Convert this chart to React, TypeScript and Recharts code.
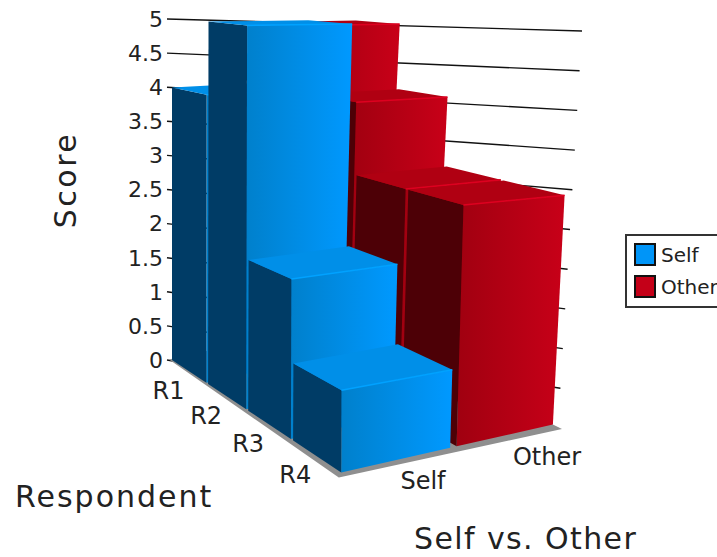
import { BarChart, Bar, XAxis, YAxis, CartesianGrid, Customized, Legend } from "recharts";

const respondents = ["R1", "R2", "R3", "R4"];
const selfScores = [4, 5, 2, 1];
const otherScores = [5, 4, 3, 3];
const scoreTicks = [0, 0.5, 1, 1.5, 2, 2.5, 3, 3.5, 4, 4.5, 5];
const seriesNames = ["Self", "Other"];

const chartData = respondents.map((name, i) => ({
    name,
    Self: selfScores[i],
    Other: otherScores[i],
}));

const FONT = "'DejaVu Sans', sans-serif";
const TEXT = "#222";
const PLOT_LEFT = 172;
const PLOT_TOP = 19;
const PLOT_BOTTOM = 360;
const PLOT_WIDTH = 400;

const palette: Record<string, any> = {
    Self: { side: "#003c66", dark: "#0080cc", light: "#0099ff", top: "#008fe8", edge: "#00a2ff" },
    Other: { side: "#4d0006", dark: "#a00010", light: "#c80018", top: "#b00012", edge: "#de0020" },
};

// perspective box: u runs Self to Other, v runs R1 to R4, h is 0 on the floor and 1 at the axis maximum
const NEAR_WEIGHT = -0.2;

function project(u: number, v: number, h: number) {
    const w = 1 + NEAR_WEIGHT * v;
    const floorX = 172 + 169.6 * u + 101.6 * v;
    const floorY = 360 - 38.4 * u + 18.4 * v;
    const ceilX = 172 + 184 * u + 103.2 * v;
    const ceilY = 18 - 2.4 * u + 10 * v;
    return {
        x: (floorX + (ceilX - floorX) * h) / w,
        y: (floorY + (ceilY - floorY) * h) / w,
    };
}

function toPoints(corners: number[][]) {
    return corners
        .map(([u, v, h]) => {
            const p = project(u, v, h);
            return `${p.x.toFixed(1)},${p.y.toFixed(1)}`;
        })
        .join(" ");
}

const laneSpans = [[0, 0.515], [0.545, 1]];

function Block(props: any) {
    const { index, height, lane, name } = props;
    const colors = palette[name];
    const raw = height / (PLOT_BOTTOM - PLOT_TOP);
    // tops sit a touch under the nominal level because of the bevelled edge
    const h = lane === 1 ? raw - 0.016 : raw - 0.015 * (1 - raw);
    const [u0, u1] = laneSpans[lane];
    const v0 = index * 0.252;
    const v1 = v0 + 0.24;
    const gradientId = `front-${name}-${index}`;
    const a = project(u0, v1, h);
    const b = project(u1, v1, h);
    return (
        <g>
            <defs>
                <linearGradient id={gradientId} x1="0" y1="0" x2="1" y2="0">
                    <stop offset="0" stopColor={colors.dark} />
                    <stop offset="1" stopColor={colors.light} />
                </linearGradient>
            </defs>
            <polygon points={toPoints([[u0, v1, 0], [u1, v1, 0], [u1, v1, h], [u0, v1, h]])} fill={`url(#${gradientId})`} />
            <polygon points={toPoints([[u0, v0, 0], [u0, v1, 0], [u0, v1, h], [u0, v0, h]])} fill={colors.side} />
            <polygon points={toPoints([[u0, v0, h], [u0, v1, h], [u1, v1, h], [u1, v0, h]])} fill={colors.top} />
            <line x1={a.x} y1={a.y} x2={b.x} y2={b.y} stroke={colors.edge} strokeWidth={1.5} />
        </g>
    );
}

function WallLine(props: any) {
    const { y1 } = props;
    const h = (PLOT_BOTTOM - y1) / (PLOT_BOTTOM - PLOT_TOP);
    // the wall lines run on to the far right corner, a little past the bars
    const endX = 558 + 24 * h;
    const endY = 428 - 397 * h;
    return <line x1={PLOT_LEFT - 5} y1={y1} x2={endX} y2={endY} stroke="#111" strokeWidth={1.4} />;
}

function Floor() {
    return <polygon points={toPoints([[-0.01, -0.01, 0], [-0.035, 1.02, 0], [1, 1.03, 0], [1, -0.01, 0]])} fill="#8f8f8f" />;
}

function Titles() {
    return (
        <g fontFamily={FONT} fill={TEXT}>
            <text x={65} y={180} fontSize={30} textAnchor="middle" dominantBaseline="central" transform="rotate(-90 65 180)" letterSpacing={2.5}>
                Score
            </text>
            <text x={15} y={507} fontSize={30} letterSpacing={2}>Respondent</text>
            <text x={414} y={549} fontSize={30} letterSpacing={1.4}>Self vs. Other</text>
            <text x={423} y={489} fontSize={24} textAnchor="middle">{seriesNames[0]}</text>
            <text x={547} y={465} fontSize={24} textAnchor="middle">{seriesNames[1]}</text>
        </g>
    );
}

function DepthTick(props: any) {
    const { index, payload } = props;
    const anchor = project(0, (index + 0.5) * 0.25, 0);
    return (
        <text x={anchor.x - 21} y={anchor.y + 19} fontSize={24} fontFamily={FONT} fill={TEXT} textAnchor="middle" dominantBaseline="central">
            {payload.value}
        </text>
    );
}

function SeriesKey() {
    return (
        <div
            style={{
                width: 120,
                height: 70,
                border: "2px solid #333",
                background: "#fff",
                fontFamily: FONT,
                fontSize: 20,
                color: TEXT,
                position: "relative",
            }}
        >
            {seriesNames.map((name, i) => (
                <div key={name} style={{ position: "absolute", left: 7, top: 7 + i * 32, display: "flex", alignItems: "center", height: 23 }}>
                    <span style={{ width: 18, height: 19, border: "2px solid #111", background: name === "Self" ? "#0095f8" : "#c40018", marginRight: 5 }} />
                    {name}
                </div>
            ))}
        </div>
    );
}

export default function App() {
    return (
        <div style={{ position: "absolute", left: 0, top: 0, width: 717, height: 557, overflow: "hidden", background: "#fff" }}>
            <BarChart
                width={717}
                height={557}
                data={chartData}
                margin={{ top: PLOT_TOP, bottom: 557 - PLOT_BOTTOM - 30, left: PLOT_LEFT - 60, right: 717 - PLOT_LEFT - PLOT_WIDTH }}
                barCategoryGap={0}
                barGap={0}
            >
                <Customized component={Floor} />
                <CartesianGrid horizontal={WallLine} vertical={false} />
                <XAxis dataKey="name" axisLine={false} tickLine={false} tick={DepthTick} height={30} />
                <YAxis
                    domain={[0, 5]}
                    ticks={scoreTicks}
                    width={60}
                    axisLine={false}
                    tickLine={false}
                    interval={0}
                    tickMargin={3}
                    tick={{ fontSize: 22, fontFamily: FONT, fill: TEXT }}
                />
                <Bar dataKey="Other" isAnimationActive={false} shape={(p: any) => <Block {...p} name="Other" lane={1} />} />
                <Bar dataKey="Self" isAnimationActive={false} shape={(p: any) => <Block {...p} name="Self" lane={0} />} />
                <Customized component={Titles} />
                <Legend
                    layout="vertical"
                    align="center"
                    verticalAlign="middle"
                    content={SeriesKey}
                    wrapperStyle={{ left: 625, top: 234, width: 124 }}
                />
            </BarChart>
        </div>
    );
}
